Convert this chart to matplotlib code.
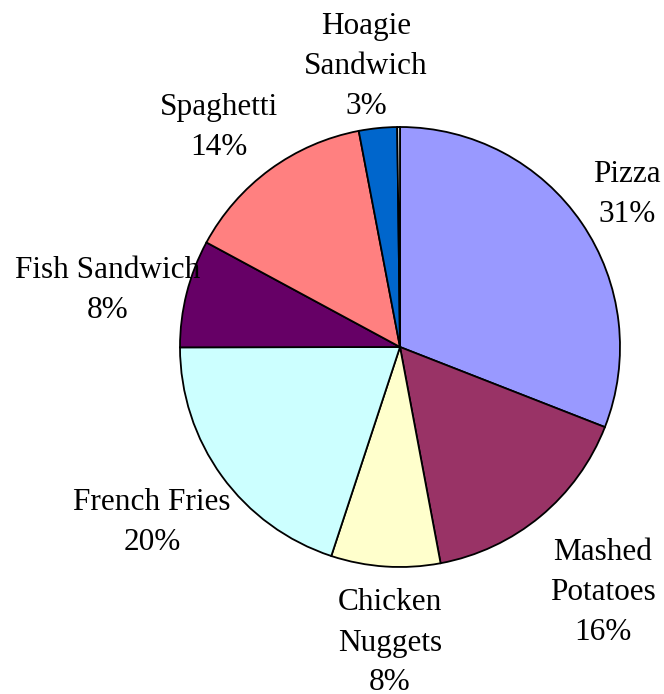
import matplotlib
matplotlib.use("Agg")
import matplotlib.pyplot as plt

categories = ["Pizza", "Mashed\nPotatoes", "Chicken\nNuggets", "French Fries",
              "Fish Sandwich", "Spaghetti", "Hoagie\nSandwich", ""]
values = [30.9, 16.1, 8.0, 19.9, 7.9, 14.1, 2.8, 0.2]
colors = ["#9999FF", "#993366", "#FFFFCC", "#CCFFFF", "#660066", "#FF8080", "#0066CC", "#FFFFFF"]

# label block centres in pixel coordinates (x, y from top)
label_pos = [(627, 194), (603, 592), (390, 643), (152, 522),
             (108, 290), (219, 127), (366, 66), None]

W, H = 664, 694
fig = plt.figure(figsize=(W / 100, H / 100), dpi=100)
ax = fig.add_axes([0, 0, 1, 1])

ax.pie(values, colors=colors, startangle=90, counterclock=False,
       center=(400, H - 347), radius=220,
       wedgeprops=dict(edgecolor="black", linewidth=1.3))
ax.set_xlim(0, W)
ax.set_ylim(0, H)
ax.set_aspect("equal")
ax.axis("off")

total = sum(values)
for cat, v, pos in zip(categories, values, label_pos):
    if pos is None:
        continue
    txt = f"{cat}\n{round(v / total * 100):.0f}%"
    ax.text(pos[0], H - pos[1], txt, ha="center", va="center",
            multialignment="center", fontsize=22.5, linespacing=1.5,
            family=["Liberation Serif", "DejaVu Serif"], color="black")

fig.savefig("out.png", dpi=100)
